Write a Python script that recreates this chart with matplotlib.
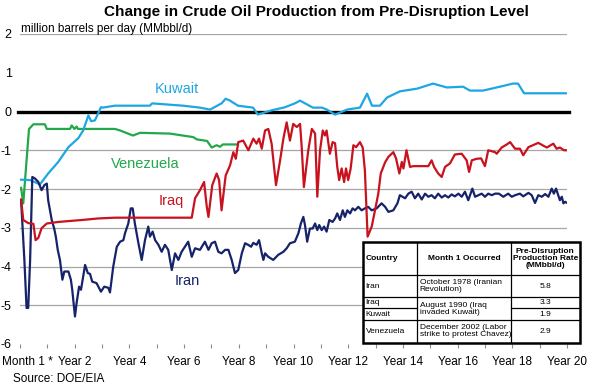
import matplotlib
matplotlib.use("Agg")
import matplotlib.pyplot as plt
import matplotlib.transforms as mtransforms
from matplotlib.patches import Rectangle

plt.rcParams['font.family'] = ['Liberation Sans', 'DejaVu Sans']
plt.rcParams['axes.unicode_minus'] = False

# years since month 1 of the disruption, change in MMbbl/d
kuwait_t = [0.04, 0.37, 0.73, 1.03, 1.40, 1.77, 2.13, 2.31, 2.50, 2.60, 2.74, 2.96, 3.03, 3.47,
            4.75, 4.83, 5.96, 6.58, 6.95, 7.37, 7.52, 7.68, 7.97, 8.52, 8.70, 8.96, 9.20, 9.69,
            10.05, 10.24, 10.71, 11.04, 11.22, 11.52, 11.96, 12.43, 12.69, 12.87, 13.16, 13.42,
            13.89, 14.52, 15.10, 15.61, 16.20, 16.45, 16.93, 17.55, 18.02, 18.21, 18.43, 20.0]
kuwait_v = [-1.76, -1.77, -1.88, -1.60, -1.30, -0.92, -0.69, -0.49, -0.10, -0.25, -0.23, 0.11, 0.10, 0.15,
            0.15, 0.21, 0.15, 0.10, 0.05, 0.21, 0.33, 0.28, 0.15, 0.10, -0.08, -0.02, 0.03, 0.11,
            0.21, 0.28, 0.10, 0.10, 0.05, -0.08, 0.05, 0.10, 0.46, 0.15, 0.15, 0.36,
            0.52, 0.59, 0.72, 0.62, 0.64, 0.54, 0.54, 0.64, 0.72, 0.72, 0.47, 0.47]

venezuela_t = [0.04, 0.12, 0.24, 0.33, 0.49, 0.91, 0.98, 1.83, 1.89, 1.99, 2.07, 2.12, 3.47, 3.66,
               4.13, 4.39, 5.48, 6.33, 6.47, 6.84, 7.01, 7.19, 7.31, 7.42, 7.97]
venezuela_v = [-1.97, -2.37, -1.26, -0.45, -0.33, -0.33, -0.45, -0.45, -0.36, -0.45, -0.39, -0.45, -0.45, -0.49,
               -0.62, -0.55, -0.57, -0.66, -0.72, -0.76, -0.93, -0.87, -0.91, -0.85, -0.85]

iraq_t = [0.04, 0.12, 0.30, 0.49, 0.57, 0.67, 0.79, 0.98, 1.40, 2.26, 2.86, 3.47, 6.28, 6.40, 6.58,
          6.73, 6.83, 6.89, 7.03, 7.19, 7.28, 7.37, 7.52, 7.68, 7.80, 7.89, 7.98, 8.16, 8.35, 8.53,
          8.65, 8.74, 8.84, 8.96, 9.08, 9.20, 9.36, 9.51, 9.63, 9.75, 9.87, 9.99, 10.12, 10.24,
          10.30, 10.38, 10.54, 10.67, 10.79, 10.87, 10.97, 11.07, 11.15, 11.21, 11.33, 11.43, 11.52,
          11.60, 11.67, 11.76, 11.85, 11.92, 12.00, 12.09, 12.19, 12.29, 12.43, 12.53, 12.61, 12.71,
          12.86, 12.98, 13.10, 13.19, 13.35, 13.47, 13.65, 13.75, 13.87, 13.96, 14.02, 14.13, 14.26,
          14.38, 14.93, 15.05, 15.14, 15.29, 15.42, 15.54, 15.72, 15.90, 16.15, 16.33, 16.42, 16.52,
          16.70, 16.86, 17.00, 17.12, 17.37, 17.43, 17.61, 17.80, 17.92, 18.10, 18.28, 18.40, 18.59,
          18.95, 19.26, 19.50, 19.62, 19.74, 19.89, 20.0]
iraq_v = [-2.27, -2.80, -2.88, -2.90, -3.32, -3.26, -3.01, -2.89, -2.85, -2.80, -2.76, -2.74, -2.74, -2.24, -2.03,
          -1.82, -2.46, -2.72, -1.90, -1.60, -1.77, -2.55, -1.65, -1.39, -1.05, -1.22, -0.79, -0.75, -1.00, -0.70,
          -0.83, -0.70, -0.96, -0.49, -0.45, -0.83, -1.90, -1.26, -0.70, -0.28, -0.75, -0.32, -0.40, -0.32,
          -0.92, -1.95, -1.00, -0.45, -0.57, -2.20, -1.00, -0.49, -0.62, -0.49, -1.09, -0.79, -0.82,
          -1.43, -1.77, -1.47, -1.82, -1.47, -1.77, -1.47, -0.87, -0.92, -0.79, -0.93, -1.52, -3.23,
          -2.97, -2.55, -2.12, -1.60, -1.31, -1.17, -1.05, -1.21, -1.60, -1.30, -1.47, -1.00, -1.43,
          -1.41, -1.41, -1.26, -1.43, -1.60, -1.69, -1.43, -1.34, -1.11, -1.09, -1.26, -1.56, -1.26,
          -1.22, -1.21, -1.41, -1.00, -1.05, -1.09, -0.93, -0.85, -0.79, -0.96, -0.96, -1.13, -0.92,
          -0.81, -0.93, -0.83, -0.96, -0.93, -1.00, -1.00]

iran_t = [0.04, 0.16, 0.24, 0.30, 0.37, 0.45, 0.55, 0.67, 0.79, 0.89, 0.98, 1.03, 1.16, 1.25, 1.31,
          1.38, 1.46, 1.55, 1.62, 1.77, 1.86, 1.91, 2.01, 2.07, 2.16, 2.23, 2.38, 2.48, 2.56, 2.64,
          2.80, 2.96, 3.08, 3.23, 3.29, 3.41, 3.54, 3.66, 3.78, 3.84, 3.96, 4.05, 4.12, 4.20, 4.33,
          4.45, 4.57, 4.69, 4.75, 4.85, 4.94, 5.06, 5.18, 5.30, 5.42, 5.55, 5.67, 5.79, 5.91, 6.03,
          6.15, 6.28, 6.40, 6.58, 6.76, 6.89, 7.01, 7.13, 7.25, 7.37, 7.50, 7.62, 7.74, 7.86, 7.98,
          8.11, 8.23, 8.34, 8.45, 8.53, 8.65, 8.74, 8.84, 8.90, 8.96, 9.08, 9.26, 9.44, 9.63, 9.75,
          9.87, 10.05, 10.18, 10.27, 10.36, 10.42, 10.50, 10.60, 10.70, 10.79, 10.87, 10.94, 11.03,
          11.12, 11.21, 11.31, 11.43, 11.52, 11.60, 11.70, 11.80, 11.88, 11.97, 12.07, 12.16, 12.25,
          12.37, 12.49, 12.61, 12.73, 12.86, 13.04, 13.22, 13.35, 13.47, 13.65, 13.80, 13.89, 14.08,
          14.20, 14.32, 14.44, 14.56, 14.69, 14.81, 14.93, 15.05, 15.17, 15.29, 15.42, 15.54, 15.66,
          15.78, 15.90, 16.03, 16.15, 16.27, 16.39, 16.54, 16.64, 16.76, 16.88, 17.00, 17.12, 17.25,
          17.37, 17.51, 17.67, 17.85, 17.98, 18.10, 18.28, 18.40, 18.59, 18.71, 18.83, 18.95, 19.08,
          19.20, 19.32, 19.44, 19.52, 19.60, 19.68, 19.74, 19.81, 19.87, 19.93, 20.0]
iran_v = [-2.29, -3.83, -5.07, -5.07, -3.83, -1.69, -1.73, -1.82, -2.03, -1.90, -1.86, -2.29, -2.80, -3.02, -3.23,
          -3.57, -3.83, -4.34, -4.13, -4.13, -4.34, -4.60, -5.29, -4.94, -4.52, -4.60, -3.96, -4.17, -4.19, -4.39,
          -4.43, -4.65, -4.52, -4.55, -4.67, -4.00, -3.49, -3.36, -3.32, -3.14, -2.89, -2.50, -2.50, -2.89, -3.40,
          -3.83, -3.32, -2.97, -3.23, -3.10, -3.32, -3.44, -3.62, -3.44, -3.57, -4.09, -3.66, -3.83, -3.62, -3.49,
          -3.36, -3.75, -3.53, -3.57, -3.36, -3.57, -3.40, -3.36, -3.62, -3.66, -3.57, -3.57, -3.83, -4.17, -4.09,
          -3.66, -3.40, -3.44, -3.49, -3.39, -3.44, -3.32, -3.66, -3.83, -3.66, -3.75, -3.83, -3.70, -3.62, -3.53,
          -3.40, -3.36, -3.14, -2.89, -2.72, -2.93, -3.36, -3.02, -3.02, -2.89, -3.06, -2.93, -3.06,
          -2.97, -3.10, -2.80, -2.85, -2.76, -2.63, -2.80, -2.55, -2.72, -2.55, -2.63, -2.50, -2.55,
          -2.46, -2.55, -2.50, -2.46, -2.55, -2.50, -2.37, -2.46, -2.59, -2.55, -2.37, -2.16, -2.24,
          -2.12, -2.07, -2.24, -2.12, -2.27, -2.12, -2.20, -2.16, -2.24, -2.12, -2.22, -2.16, -2.22,
          -2.14, -2.19, -2.12, -2.20, -2.07, -2.29, -1.99, -2.20, -2.16, -2.12, -2.20, -2.12, -2.16,
          -2.12, -2.12, -2.20, -2.12, -2.20, -2.16, -2.12, -2.19, -2.10, -2.16, -2.36, -2.16, -2.20,
          -2.13, -2.20, -1.99, -2.12, -1.99, -2.16, -2.29, -2.20, -2.37, -2.33, -2.36]

x_ticks = list(range(21))
x_labels = ['Month 1 *' if i == 0 else ('Year %d' % i if i % 2 == 0 else '') for i in x_ticks]
y_ticks = [-6, -5, -4, -3, -2, -1, 0, 1, 2]
grid_levels = [2, -1, -2, -3, -4, -5]

tbl_header = ['Country', 'Month 1 Occurred', 'Pre-Disruption\nProduction Rate\n(MMbbl/d)']
tbl_country = ['Iran', 'Iraq', 'Kuwait', 'Venezuela']
tbl_month = ['October 1978 (Iranian\nRevolution)', 'August 1990 (Iraq\ninvaded Kuwait)',
             'December 2002 (Labor\nstrike to protest Chavez)']
tbl_rate = ['5.8', '3.3', '1.9', '2.9']

c_kuwait = '#1DA7E2'
c_venez = '#22A84A'
c_iraq = '#C8121E'
c_iran = '#16236A'

W, H = 600, 391
fig = plt.figure(figsize=(6, 3.91), dpi=100)
ax = fig.add_axes([20 / W, 1 - 344 / H, 547 / W, 310 / H])
ax.set_xlim(0, 20)
ax.set_ylim(-6, 2)
for s in ax.spines.values():
    s.set_visible(False)

for g in grid_levels:
    ax.axhline(g, color='#A6A6A6', lw=0.9, zorder=1)
ax.axhline(0, xmin=-0.004, xmax=1.004, color='black', lw=2.4, zorder=2, clip_on=False)

ax.plot(venezuela_t, venezuela_v, color=c_venez, lw=1.6, zorder=3)
ax.plot(kuwait_t, kuwait_v, color=c_kuwait, lw=1.6, zorder=3)
ax.plot(iran_t, iran_v, color=c_iran, lw=1.6, zorder=3)
ax.plot(iraq_t, iraq_v, color=c_iraq, lw=1.6, zorder=3)

ax.text(5.74, 0.57, 'Kuwait', color=c_kuwait, fontsize=10.5, ha='center', va='center')
ax.text(4.57, -1.36, 'Venezuela', color=c_venez, fontsize=10.5, ha='center', va='center')
ax.text(5.52, -2.31, 'Iraq', color=c_iraq, fontsize=10.5, ha='center', va='center')
ax.text(6.11, -4.37, 'Iran', color=c_iran, fontsize=10.5, ha='center', va='center')

ax.set_yticks(y_ticks)
ax.set_yticklabels([str(v) for v in y_ticks])
ax.tick_params(axis='y', length=0, pad=6, labelsize=9)
ax.set_xticks(x_ticks)
ax.set_xticklabels(x_labels)
ax.tick_params(axis='x', length=3, width=0.8, color='#8C8C8C', pad=5.5, labelsize=8.5)
lab0 = ax.get_xticklabels()[0]
lab0.set_transform(lab0.get_transform() + mtransforms.ScaledTranslation(0.07, 0, fig.dpi_scale_trans))

fig.text(316 / W, 1 - 16 / H, 'Change in Crude Oil Production from Pre-Disruption Level',
         ha='center', va='baseline', fontsize=11, fontweight='bold')
fig.text(20.7 / W, 1 - 32 / H, 'million barrels per day (MMbbl/d)', ha='left', va='baseline', fontsize=8.5)
fig.text(12.7 / W, 1 - 382 / H, 'Source: DOE/EIA', ha='left', va='baseline', fontsize=8.5)

# table
tw, th = 217.3, 101
tx = fig.add_axes([362.7 / W, 1 - 342.7 / H, tw / W, th / H], zorder=5)
tx.set_xlim(0, tw)
tx.set_ylim(th, 0)
tx.axis('off')
tx.add_patch(Rectangle((0, 0), tw, th, facecolor='white', edgecolor='black', lw=1.8, clip_on=False))
col = [0, 54.6, 148, tw]
row = [0, 33.3, 55.6, 66.6, 78.3, th]
for cx in col[1:3]:
    tx.plot([cx, cx], [0, th], color='black', lw=0.9)
for ry in [row[1], row[2], row[4]]:
    tx.plot([0, tw], [ry, ry], color='black', lw=0.9)
tx.plot([0, col[1]], [row[3], row[3]], color='black', lw=0.9)
tx.plot([col[2], tw], [row[3], row[3]], color='black', lw=0.9)

fs = 6
tx.text(3, 17, tbl_header[0], ha='left', va='center', fontsize=fs, fontweight='bold')
tx.text((col[1] + col[2]) / 2, 17, tbl_header[1], ha='center', va='center', fontsize=fs, fontweight='bold')
tx.text((col[2] + col[3]) / 2, 17, tbl_header[2], ha='center', va='center', fontsize=fs,
        fontweight='bold', linespacing=1.05)
mids = [(row[i] + row[i + 1]) / 2 for i in range(1, 5)]
for i in range(4):
    tx.text(3, mids[i], tbl_country[i], ha='left', va='center', fontsize=fs)
    tx.text((col[2] + col[3]) / 2, mids[i], tbl_rate[i], ha='center', va='center', fontsize=fs)
month_y = [mids[0], (row[2] + row[4]) / 2, mids[3]]
for i in range(3):
    tx.text(col[1] + 2.5, month_y[i], tbl_month[i], ha='left', va='center', fontsize=fs, linespacing=1.05)

fig.savefig('out.png', dpi=100)
